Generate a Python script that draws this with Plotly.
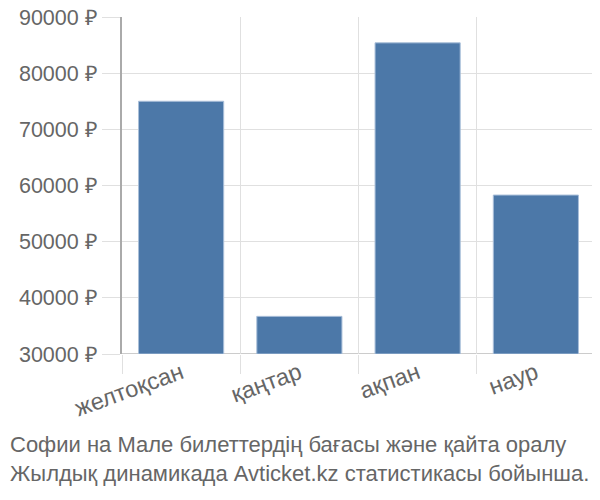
import plotly.graph_objects as go

months = ["желтоқсан", "қаңтар", "ақпан", "наур"]
prices = [75000, 36700, 85400, 58300]
y_ticks = [30000, 40000, 50000, 60000, 70000, 80000, 90000]
y_labels = [f"{v} ₽" for v in y_ticks]
caption = "Софии на Мале билеттердің бағасы және қайта оралу<br>Жылдық динамикада Avticket.kz статистикасы бойынша."

base = 30000

fig = go.Figure(go.Bar(
    x=months,
    y=[p - base for p in prices],
    base=base,
    marker=dict(color="#4c78a8", line=dict(color="#a9bfd9", width=1)),
    width=0.72,
))

# the page body has an 8px margin, so shrink the figure to land the plot
# area at about x 122..595, y 17..354 in the window
OFF = 8
W, H = 600 - OFF, 500 - OFF
L, R, T, B = 122 - OFF, 5, 17 - OFF, 146
pw = W - L - R
ph = H - T - B

fig.update_layout(
    width=W, height=H,
    margin=dict(l=L, r=R, t=T, b=B),
    plot_bgcolor="white",
    paper_bgcolor="white",
    font=dict(family="Liberation Sans, Arial, sans-serif", color="#666666"),
    showlegend=False,
    annotations=[dict(
        text=caption,
        xref="paper", yref="paper",
        x=-L / pw, y=-(430 - 354) / ph,
        xanchor="left", yanchor="top",
        align="left", showarrow=False,
        font=dict(size=22, color="#666666"),
    )],
)

fig.update_xaxes(
    tickson="boundaries",
    showgrid=True, gridcolor="#e0e0e0", gridwidth=1,
    ticks="outside", ticklen=19, tickcolor="#e0e0e0",
    tickangle=-20,
    tickfont=dict(size=23.5, color="#666666"),
    showline=False,
    automargin=False,
)
fig.update_yaxes(
    range=[base, 90000],
    tickvals=y_ticks, ticktext=y_labels,
    showgrid=True, gridcolor="#e0e0e0", gridwidth=1,
    ticks="outside", ticklen=18, tickcolor="#e0e0e0",
    tickfont=dict(size=21.5, color="#666666"),
    ticklabeloverflow="allow",
    showline=True, linecolor="#aaaaaa", linewidth=2,
    zeroline=False,
    automargin=False,
)
# darker baseline at 30000
fig.add_hline(y=base, line=dict(color="#cccccc", width=2), layer="below")

fig.write_html("out.html")
